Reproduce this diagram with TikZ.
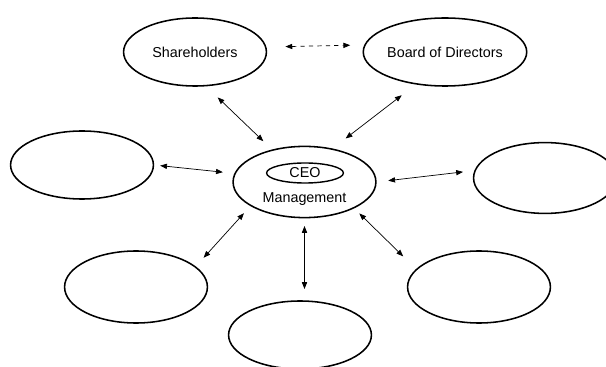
\documentclass[tikz,border=0pt]{standalone}
\usepackage{fontspec}
\setmainfont{Liberation Sans}
\usetikzlibrary{shapes.geometric,arrows.meta}

\begin{document}
\begin{tikzpicture}[x=0.025cm,y=-0.025cm,
    oval/.style={draw,ellipse,line width=1.1pt,minimum width=3.57cm,minimum height=1.7cm,
      inner sep=0pt,font=\fontsize{10.2}{12}\selectfont},
    link/.style={{Triangle[length=1.7mm,width=1.3mm]}-{Triangle[length=1.7mm,width=1.3mm]},line width=0.5pt}]
    \useasboundingbox (0,0) rectangle (606,367);
      \node[oval] (S) at (195,52) {Shareholders};
      \node[oval] (D) at (445,52) {Board of Directors};
      \node[oval,minimum height=1.78cm] (M) at (304.5,182) {};
      \node[oval,minimum width=1.92cm,minimum height=0.5cm,line width=1pt] (C) at (305,173) {CEO};
      \node[font=\fontsize{10.2}{12}\selectfont] (T) at (304.5,199) {Management};
      \node[oval] (L) at (82,165) {};
      \node[oval,minimum height=1.77cm] (R) at (545,178) {};
      \node[oval,minimum height=1.8cm] (BL) at (136,287) {};
      \node[oval] (BB) at (300,335) {};
      \node[oval,minimum height=1.8cm] (BR) at (479,287) {};
        % arrows to management
      \draw[link,dashed,shorten <=0.475cm,shorten >=0.35cm] (S.4.8) -- (D.175.2);
      \draw[link,shorten <=0.4cm,shorten >=0.3cm] (S.-72.6) -- (M.135.7);
      \draw[link,shorten <=0.44cm,shorten >=0.41cm] (D.228) -- (M.50.8);
      \draw[link,shorten <=0.15cm,shorten >=0.29cm] (L.east) -- (M.173.7);
      \draw[link,shorten <=0.29cm,shorten >=0.285cm] (M.east) -- (R.174.6);
      \draw[link,shorten <=0.24cm,shorten >=0.29cm] (M.204.7) -- (BL.19.6);
      \draw[link,shorten <=0.19cm,shorten >=0.28cm] (M.south) -- (M.south |- BB.north);
      \draw[link,shorten <=0.18cm,shorten >=0.45cm] (M.-28.1) -- (BR.164.2);
    \end{tikzpicture}
\end{document}
